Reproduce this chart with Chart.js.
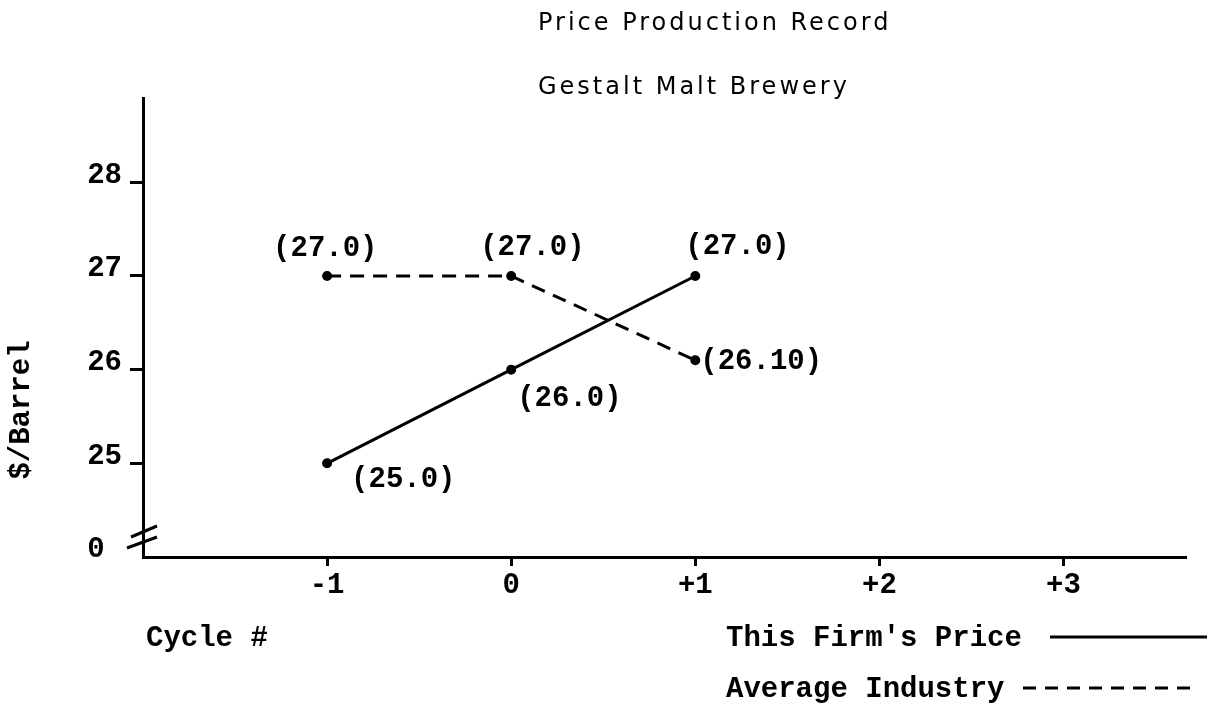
<!DOCTYPE html>
<html><head><meta charset="utf-8">
<script src="https://cdn.jsdelivr.net/npm/chart.js@4.4.1/dist/chart.umd.min.js"></script>
<style>html,body{margin:0;padding:0;background:#fff;}#wrap{position:relative;width:1212px;height:722px;}</style>
</head><body><div id="wrap"><canvas id="c" width="1212" height="722"></canvas></div>
<script>
// ---- data ----
const cycles = [-1, 0, 1];
const firmPrice = [25.0, 26.0, 27.0];
const industryPrice = [27.0, 27.0, 26.1];
const firmLabels = ['(25.0)', '(26.0)', '(27.0)'];
const industryLabels = ['(27.0)', '(27.0)', '(26.10)'];
const xTicks = [-1, 0, 1, 2, 3];
const xTickLabels = ['-1', '0', '+1', '+2', '+3'];
const yTicks = [24, 25, 26, 27, 28];
const yTickLabels = ['0 ', '25', '26', '27', '28'];
const titleLines = ['Price Production Record', 'Gestalt Malt Brewery'];
const seriesNames = ["This Firm's Price", 'Average Industry'];
const xAxisTitle = 'Cycle #';
const yAxisTitle = '$/Barrel';

// ---- styles ----
const MONO = '"Liberation Mono", "DejaVu Sans Mono", monospace';
const TYPE_FONT = 'bold 29px ' + MONO;
const firmLabelOffsets = [[24, 16], [6, 29], [-10, -29]];
const industryLabelOffsets = [[-54, -27], [-31, -28], [5, 1]];

const pts = (xs, ys) => xs.map((x, i) => ({x: x, y: ys[i]}));

const decor = {
  id: 'decor',
  afterDatasetsDraw(chart) {
    const ctx = chart.ctx;
    ctx.save();
    ctx.fillStyle = '#000';
    ctx.strokeStyle = '#000';
    // data labels
    ctx.font = TYPE_FONT;
    ctx.textAlign = 'left';
    ctx.textBaseline = 'middle';
    const lab = (dsIndex, labels, offs) => {
      const meta = chart.getDatasetMeta(dsIndex);
      meta.data.forEach((el, i) => {
        ctx.fillText(labels[i], el.x + offs[i][0], el.y + offs[i][1]);
      });
    };
    lab(0, firmLabels, firmLabelOffsets);
    lab(1, industryLabels, industryLabelOffsets);

    // title
    ctx.save();
    ctx.font = '24px "DejaVu Sans", sans-serif';
    ctx.letterSpacing = '3px';
    ctx.fillText(titleLines[0], 538, 24);
    ctx.fillText(titleLines[1], 538, 88);
    ctx.restore();

    // axis break
    const ys = chart.scales.y;
    const x0 = chart.chartArea.left;
    const yb = ys.getPixelForValue(24) - 14;
    ctx.lineWidth = 3;
    ctx.beginPath();
    ctx.moveTo(x0 - 16, yb + 5); ctx.lineTo(x0 + 14, yb - 6);
    ctx.moveTo(x0 - 12, yb - 6); ctx.lineTo(x0 + 14, yb - 17);
    ctx.stroke();

    // y axis title
    ctx.font = TYPE_FONT;
    ctx.save();
    ctx.translate(22, 410);
    ctx.rotate(-Math.PI / 2);
    ctx.textAlign = 'center';
    ctx.fillText(yAxisTitle, 0, 0);
    ctx.restore();

    // x axis title
    ctx.textAlign = 'left';
    ctx.fillText(xAxisTitle, 146, 639);

    // legend
    ctx.fillText(seriesNames[0], 726, 639);
    ctx.fillText(seriesNames[1], 726, 690);
    ctx.lineWidth = 3;
    ctx.beginPath(); ctx.moveTo(1050, 637); ctx.lineTo(1207, 637); ctx.stroke();
    ctx.setLineDash([13, 9]);
    ctx.beginPath(); ctx.moveTo(1023, 688); ctx.lineTo(1192, 688); ctx.stroke();
    ctx.restore();
  }
};

new Chart(document.getElementById('c'), {
  type: 'scatter',
  data: {
    datasets: [
      { label: seriesNames[0], data: pts(cycles, firmPrice), showLine: true,
        borderColor: '#000', backgroundColor: '#000', borderWidth: 3,
        pointRadius: 3.5, pointBackgroundColor: '#000', tension: 0 },
      { label: seriesNames[1], data: pts(cycles, industryPrice), showLine: true,
        borderColor: '#000', backgroundColor: '#000', borderWidth: 3, borderDash: [14, 9],
        pointRadius: 3.5, pointBackgroundColor: '#000', tension: 0 }
    ]
  },
  options: {
    responsive: false,
    animation: false,
    layout: { padding: { top: 98, right: 27, left: 0, bottom: 0 } },
    plugins: { legend: { display: false }, tooltip: { enabled: false }, title: { display: false } },
    scales: {
      x: {
        type: 'linear', min: -2, max: 3.66,
        afterBuildTicks: (s) => { s.ticks = xTicks.map(v => ({value: v})); },
        afterFit: (s) => { s.height = 165; },
        ticks: { color: '#000', font: { family: MONO, size: 29, weight: 'bold' }, padding: 2,
          callback: (v) => { const i = xTicks.indexOf(v); return i >= 0 ? xTickLabels[i] : ''; } },
        grid: { drawOnChartArea: false, drawTicks: true, tickLength: 9, color: '#000', lineWidth: 3 },
        border: { display: true, color: '#000', width: 3 }
      },
      y: {
        type: 'linear', min: 24, max: 28.9,
        afterBuildTicks: (s) => { s.ticks = yTicks.map(v => ({value: v})); },
        afterFit: (s) => { s.width = 143; },
        ticks: { color: '#000', font: { family: MONO, size: 29, weight: 'bold' }, padding: 8, labelOffset: -7,
          callback: (v) => { const i = yTicks.indexOf(v); return i >= 0 ? yTickLabels[i] : ''; } },
        grid: { drawOnChartArea: false, drawTicks: true, tickLength: 13,
          color: (c) => (c.tick && c.tick.value === 24) ? 'rgba(0,0,0,0)' : '#000', lineWidth: 3 },
        border: { display: true, color: '#000', width: 3 }
      }
    }
  },
  plugins: [decor]
});
</script>
</body></html>
